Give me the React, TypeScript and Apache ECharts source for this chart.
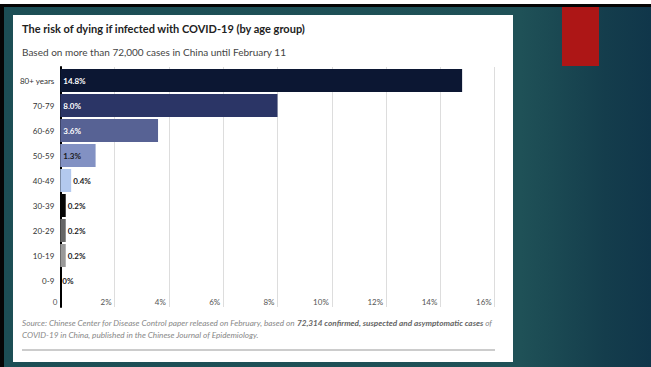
import React, { useEffect, useRef } from "react";
import * as echarts from "echarts";

const titleText = "The risk of dying if infected with COVID-19 (by age group)";
const subtitleText = "Based on more than 72,000 cases in China until February 11";
const sourceLine1a = "Source: Chinese Center for Disease Control paper released on February, based on ";
const sourceLine1b = "72,314 confirmed, suspected and asymptomatic cases";
const sourceLine1c = " of";
const sourceLine2 = "COVID-19 in China, published in the Chinese Journal of Epidemiology.";

const categories = ["80+ years", "70-79", "60-69", "50-59", "40-49", "30-39", "20-29", "10-19", "0-9"];
const deathRates = [14.8, 8.0, 3.6, 1.3, 0.4, 0.2, 0.2, 0.2, 0];
const barColors = ["#0c1733", "#2b3566", "#576294", "#8291c3", "#b3c9ee", "#050505", "#666666", "#999999", "#cccccc"];
const labelInside = [true, true, true, true, false, false, false, false, false];
const labelColors = ["#ffffff", "#ffffff", "#ffffff", "#1a1a1a", "#1a1a1a", "#1a1a1a", "#1a1a1a", "#1a1a1a", "#1a1a1a"];
const xMin = 0;
const xMax = 16;
const xInterval = 2;

const FONT = "Lato";

export default function App() {
  const ref = useRef<HTMLDivElement>(null);
  useEffect(() => {
    if (!ref.current) return;
    const chart = echarts.init(ref.current, undefined, { renderer: "svg" });
    const teal = {
      type: "linear",
      x: 0,
      y: 0,
      x2: 651,
      y2: 0,
      global: true,
      colorStops: [
        { offset: 0, color: "#1c4e55" },
        { offset: 0.8, color: "#1f5157" },
        { offset: 0.93, color: "#143d4c" },
        { offset: 1, color: "#10364a" },
      ],
    };
    const gridLeft = 60.3;
    const gridWidth = 434.4;
    chart.setOption({
      animation: false,
      backgroundColor: "#ffffff",
      title: [
        {
          text: titleText,
          left: 17,
          top: 18,
          textStyle: { fontFamily: FONT, fontSize: 11, fontWeight: "bold", color: "#222222" },
        },
        {
          text: subtitleText,
          left: 17,
          top: 41.5,
          textStyle: { fontFamily: FONT, fontSize: 10, fontWeight: "normal", color: "#444444" },
        },
      ],
      graphic: [
        { type: "rect", shape: { x: 0, y: 0, width: 651, height: 15 }, style: { fill: teal }, silent: true },
        { type: "rect", shape: { x: 0, y: 0, width: 13, height: 367 }, style: { fill: teal }, silent: true },
        { type: "rect", shape: { x: 513, y: 0, width: 138, height: 367 }, style: { fill: teal }, silent: true },
        { type: "rect", shape: { x: 0, y: 362, width: 651, height: 5 }, style: { fill: teal }, silent: true },
        { type: "rect", shape: { x: 0, y: 0, width: 651, height: 4 }, style: { fill: "#ffffff" }, silent: true },
        { type: "rect", shape: { x: 0, y: 4, width: 651, height: 3 }, style: { fill: "#050505" }, silent: true },
        { type: "rect", shape: { x: 0, y: 4, width: 4, height: 363 }, style: { fill: "#050505" }, silent: true },
        { type: "rect", shape: { x: 562, y: 7, width: 37, height: 59 }, style: { fill: "#ad1616" }, silent: true },
        { type: "rect", shape: { x: 22, y: 349, width: 473, height: 2 }, style: { fill: "#cccccc" }, silent: true },
        {
          type: "text",
          x: 22,
          y: 323,
          style: {
            text: `{a|${sourceLine1a}}{b|${sourceLine1b}}{a|${sourceLine1c}}`,
            verticalAlign: "middle",
            rich: {
              a: { fontFamily: FONT, fontSize: 8.2, fontStyle: "italic", fill: "#888888" },
              b: { fontFamily: FONT, fontSize: 8.2, fontStyle: "italic", fontWeight: "bold", fill: "#666666" },
            },
          },
          silent: true,
        },
        {
          type: "text",
          x: 22,
          y: 335,
          style: {
            text: sourceLine2,
            verticalAlign: "middle",
            fontFamily: FONT,
            fontSize: 8.2,
            fontStyle: "italic",
            fill: "#888888",
          },
          silent: true,
        },
      ],
      grid: [
        { left: gridLeft, width: gridWidth, top: 68, height: 225 },
        { left: gridLeft, width: gridWidth, top: 67, height: 240 },
      ],
      xAxis: [
        { type: "value", gridIndex: 0, min: xMin, max: xMax, interval: xInterval, show: false },
        {
          type: "value",
          gridIndex: 1,
          min: xMin,
          max: xMax,
          interval: xInterval,
          axisLine: { show: false },
          axisTick: { show: false },
          splitLine: { show: true, lineStyle: { color: "#dddddd", width: 1 } },
          axisLabel: {
            inside: true,
            margin: 1,
            align: "right",
            padding: [0, 3, 0, 0],
            fontFamily: FONT,
            fontSize: 8,
            color: "#555555",
            showMinLabel: true,
            showMaxLabel: true,
            formatter: (v: number) => (v === 0 ? "0" : `${v}%`),
          },
        },
      ],
      yAxis: [
        {
          type: "category",
          gridIndex: 0,
          data: categories,
          inverse: true,
          axisLine: { show: false },
          axisTick: { show: false },
          splitLine: { show: false },
          axisLabel: { fontFamily: FONT, fontSize: 8, color: "#333333", margin: 6 },
        },
        {
          type: "value",
          gridIndex: 1,
          axisLine: { show: true, lineStyle: { color: "#000000", width: 2 } },
          axisTick: { show: false },
          axisLabel: { show: false },
          splitLine: { show: false },
        },
      ],
      series: [
        {
          type: "bar",
          xAxisIndex: 0,
          yAxisIndex: 0,
          barWidth: 23,
          z: 5,
          data: deathRates.map((v, i) => ({
            value: v,
            itemStyle: { color: barColors[i] },
            label: {
              show: true,
              position: labelInside[i] ? "insideLeft" : "right",
              distance: labelInside[i] ? 3 : 2,
              color: labelColors[i],
              fontFamily: FONT,
              fontSize: 8,
              fontWeight: "bold",
              formatter: () => (v === 0 ? "0%" : `${v.toFixed(1)}%`),
            },
          })),
        },
      ],
    });
    return () => chart.dispose();
  }, []);
  return (
    <div
      ref={ref}
      style={{ position: "fixed", left: 0, top: 0, width: 651, height: 367 }}
    />
  );
}
